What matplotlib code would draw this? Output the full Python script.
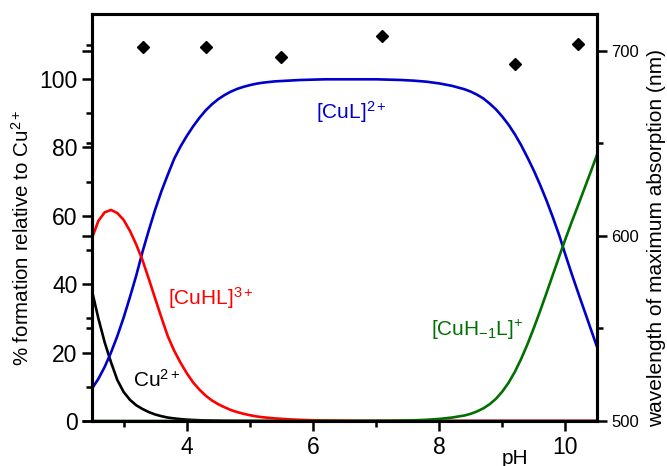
import numpy as np
import matplotlib
matplotlib.use('Agg')
import matplotlib.pyplot as plt
from matplotlib.ticker import MultipleLocator

plt.rcParams['font.family'] = ['Liberation Sans', 'DejaVu Sans']
plt.rcParams['mathtext.fontset'] = 'custom'
plt.rcParams['mathtext.rm'] = 'Liberation Sans'
plt.rcParams['mathtext.it'] = 'Liberation Sans:italic'
plt.rcParams['mathtext.bf'] = 'Liberation Sans:bold'

# pH grid (three segments, finer where curves change fast)
ph = [2.5, 2.6, 2.7, 2.8, 2.9, 3.0, 3.1, 3.2, 3.3, 3.4, 3.5, 3.6, 3.7, 3.8,
      3.9, 4.0, 4.1, 4.2, 4.3, 4.4, 4.5, 4.6, 4.7, 4.8, 4.9, 5.0, 5.1, 5.2,
      5.4, 5.6, 5.8, 6.0, 6.2, 6.4, 6.6, 6.8, 7.0, 7.2, 7.4, 7.6, 7.8, 8.0,
      8.2, 8.4,
      8.5, 8.6, 8.7, 8.8, 8.9, 9.0, 9.1, 9.2, 9.3, 9.4, 9.5, 9.6, 9.7, 9.8,
      9.9, 10.0, 10.1, 10.2, 10.3, 10.4, 10.5]

cu = [38, 30, 23, 17.2, 12, 8.5, 6.2, 4.6, 3.5, 2.6, 1.9, 1.4, 1.0, 0.75,
      0.55, 0.4, 0.3, 0.22, 0.16, 0.12, 0.09, 0.06, 0.05, 0.04, 0.03, 0.02, 0.01, 0.01,
      0, 0, 0, 0, 0, 0, 0, 0, 0, 0, 0, 0, 0, 0,
      0, 0,
      0, 0, 0, 0, 0, 0, 0, 0, 0, 0, 0, 0, 0, 0,
      0, 0, 0, 0, 0, 0, 0]

cuhl = [53.5, 58.5, 61, 61.7, 60.8, 58.8, 55.6, 51.6, 47, 41.5, 35.8, 30.2, 24.8, 20.6,
        17.1, 14, 11.3, 9.2, 7.4, 6.0, 4.9, 4.0, 3.2, 2.6, 2.1, 1.7, 1.35, 1.1,
        0.75, 0.5, 0.33, 0.22, 0.14, 0.09, 0.05, 0.03, 0.02, 0.01, 0, 0, 0, 0,
        0, 0,
        0, 0, 0, 0, 0, 0, 0, 0, 0, 0, 0, 0, 0, 0,
        0, 0, 0, 0, 0, 0, 0]

cul = [9.5, 12.3, 15.8, 20, 24.8, 30.2, 36.2, 42.5, 49.5, 55.8, 61.8, 67.2, 72, 76.6,
       80.2, 83.3, 86.1, 88.6, 90.8, 92.6, 94.1, 95.3, 96.3, 97.1, 97.7, 98.2, 98.6, 98.9,
       99.3, 99.5, 99.7, 99.8, 99.9, 99.9, 99.9, 99.9, 99.9, 99.8, 99.7, 99.5, 99.2, 98.7,
       98.0, 97.0,
       96.3, 95.4, 94.3, 92.8, 91.1, 89, 86.6, 83.8, 80.6, 77, 73.2, 69, 64.5, 59.6,
       54.4, 48.6, 43.0, 37.6, 32.3, 27.0, 21.7]

cuh1l = [0, 0, 0, 0, 0, 0, 0, 0, 0, 0, 0, 0, 0, 0,
         0, 0, 0, 0, 0, 0, 0, 0, 0, 0, 0, 0, 0, 0,
         0, 0, 0, 0, 0, 0, 0, 0.02, 0.04, 0.07, 0.12, 0.2, 0.35, 0.6,
         1.0, 1.6,
         2.1, 2.8, 3.7, 4.9, 6.5, 8.6, 11.2, 14.4, 18.2, 22.5, 27.2, 32.2, 37.4, 42.7,
         48.0, 53.2, 58.2, 63.0, 67.9, 72.8, 77.8]

# wavelength of maximum absorption (right axis)
ph_abs = [3.3, 4.3, 5.5, 7.1, 9.2, 10.2]
lam_max = [702, 702, 697, 708, 693, 704]

fig = plt.figure(figsize=(6.67, 4.66), dpi=100)
ax = fig.add_axes([0.138, 0.0966, 0.757, 0.8734])

ax.plot(ph, cu, color='black', lw=1.9)
ax.plot(ph, cul, color='#0000cc', lw=1.9)
ax.plot(ph, cuhl, color='#ff0000', lw=1.9)
ax.plot(ph, cuh1l, color='#007000', lw=1.9)

ax.set_xlim(2.5, 10.5)
ax.set_ylim(0, 119)
ax.xaxis.set_major_locator(MultipleLocator(2))
ax.xaxis.set_minor_locator(MultipleLocator(1))
ax.yaxis.set_major_locator(MultipleLocator(20))
ax.yaxis.set_minor_locator(MultipleLocator(10))
ax.tick_params(which='both', direction='out', width=1.8, labelsize=16.5, top=False)
ax.tick_params(which='major', length=7)
ax.tick_params(which='minor', length=4)
for s in ax.spines.values():
    s.set_linewidth(2.2)

ax.set_ylabel('% formation relative to Cu$^{2+}$', fontsize=14.8)
ax.yaxis.set_label_coords(-0.117, 0.45)
ax.text(9.2, -0.091, 'pH', transform=ax.get_xaxis_transform(), fontsize=15,
        ha='center', va='center')

ax.text(6.61, 90.4, '[CuL]$^{2+}$', color='#0000cc', fontsize=15, ha='center', va='center')
ax.text(3.71, 36, '[CuHL]$^{3+}$', color='#ff0000', fontsize=15, ha='left', va='center')
ax.text(3.15, 12, 'Cu$^{2+}$', color='black', fontsize=15, ha='left', va='center')
ax.text(7.87, 26.6, '[CuH$_{-1}$L]$^{+}$', color='#007000', fontsize=15, ha='left', va='center')

ax2 = ax.twinx()
ax2.plot(ph_abs, lam_max, 'D', color='black', ms=6.5)
ax2.set_ylim(500, 720)
ax2.yaxis.set_major_locator(MultipleLocator(100))
ax2.yaxis.set_minor_locator(MultipleLocator(50))
ax2.yaxis.set_ticks_position('both')
ax2.tick_params(which='both', direction='out', width=1.8, labelsize=12, labelleft=False)
ax2.tick_params(which='major', length=7)
ax2.tick_params(which='minor', length=4)
ax2.set_ylabel('wavelength of maximum absorption (nm)', fontsize=15)
ax2.yaxis.set_label_coords(1.1, 0.45)
for s in ax2.spines.values():
    s.set_linewidth(2.2)

fig.savefig('out.png', dpi=100)
